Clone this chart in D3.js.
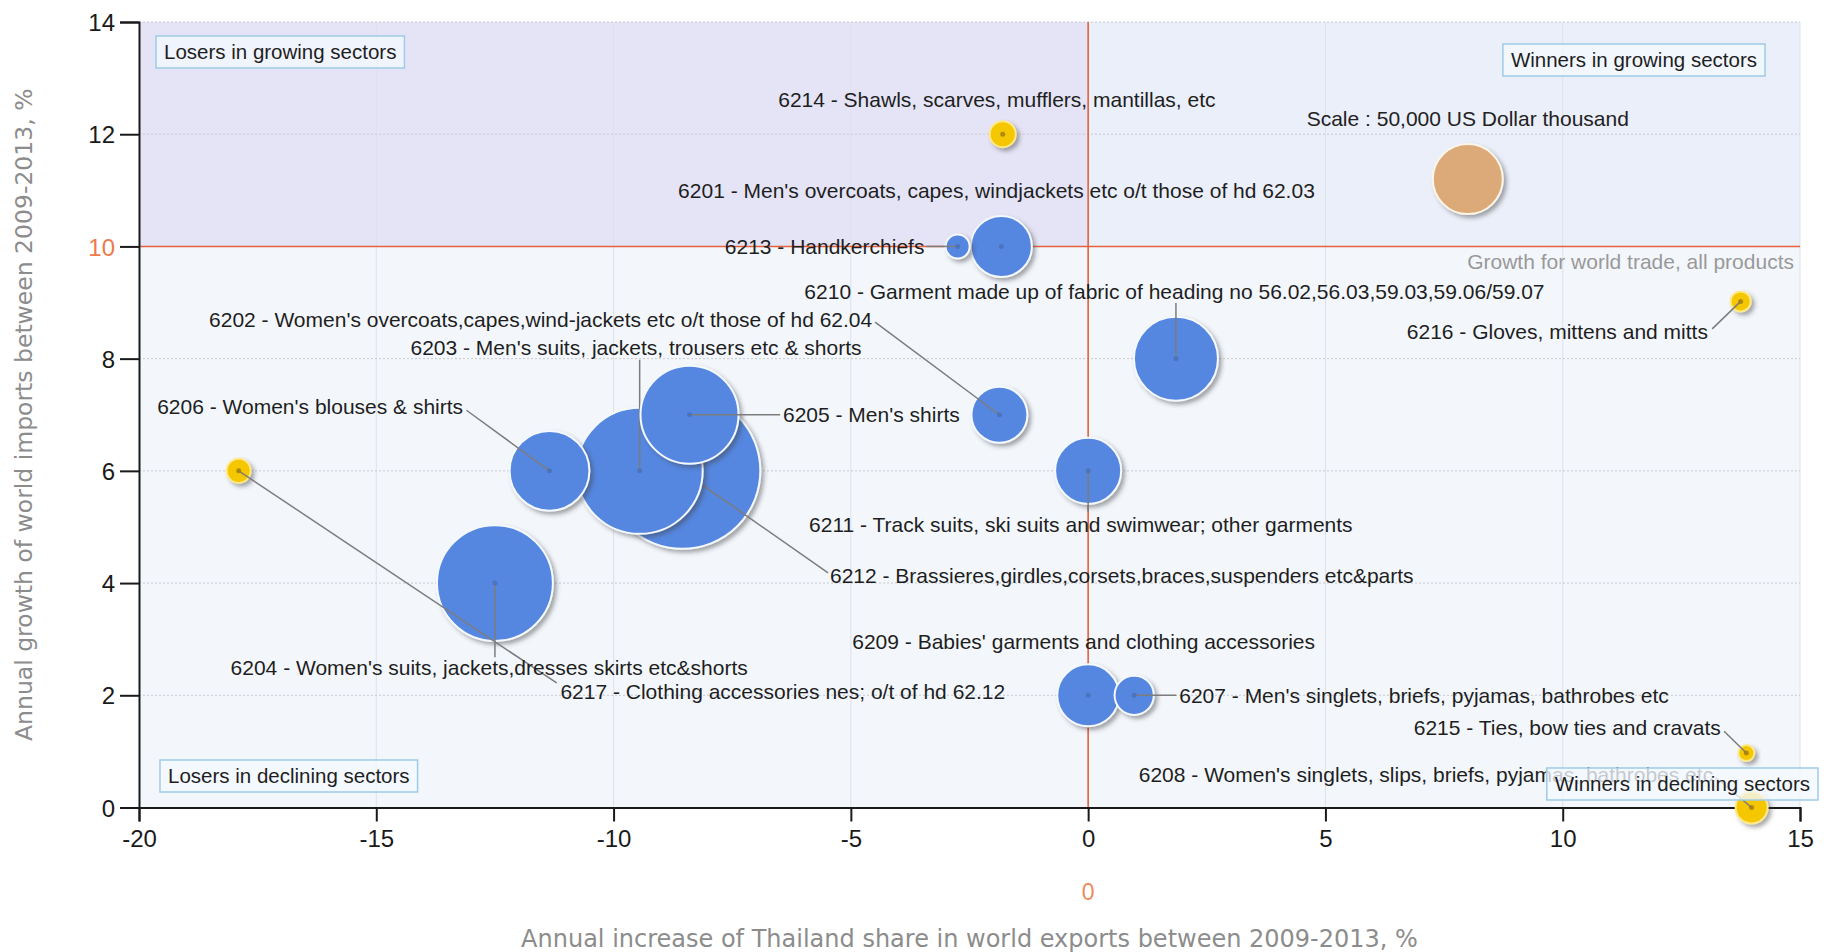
<!DOCTYPE html>
<html>
<head>
<meta charset="utf-8">
<script src="https://cdn.jsdelivr.net/npm/d3@7"></script>
<style>
  html, body { margin: 0; padding: 0; background: #ffffff; }
  svg { display: block; font-family: "Liberation Sans", Arial, sans-serif; }
</style>
</head>
<body>
<svg id="chart" width="1827" height="952"></svg>
<script>
// ---------------- DATA ----------------
const codes = ["6201","6202","6203","6204","6205","6206","6207","6208","6209","6210","6211","6212","6213","6214","6215","6216","6217"];
const names = [
  "Men's overcoats, capes, windjackets etc o/t those of hd 62.03",
  "Women's overcoats,capes,wind-jackets etc o/t those of hd 62.04",
  "Men's suits, jackets, trousers etc & shorts",
  "Women's suits, jackets,dresses skirts etc&shorts",
  "Men's shirts",
  "Women's blouses & shirts",
  "Men's singlets, briefs, pyjamas, bathrobes etc",
  "Women's singlets, slips, briefs, pyjamas, bathrobes etc",
  "Babies' garments and clothing accessories",
  "Garment made up of fabric of heading no 56.02,56.03,59.03,59.06/59.07",
  "Track suits, ski suits and swimwear; other garments",
  "Brassieres,girdles,corsets,braces,suspenders etc&parts",
  "Handkerchiefs",
  "Shawls, scarves, mufflers, mantillas, etc",
  "Ties, bow ties and cravats",
  "Gloves, mittens and mitts",
  "Clothing accessories nes; o/t of hd 62.12"
];
// Annual increase of Thailand share in world exports 2009-2013, %
const shareGrowth = [-1.83, -1.87, -9.45, -12.5, -8.4, -11.35, 0.97, 13.98, 0, 1.85, 0, -8.55, -2.75, -1.8, 13.87, 13.75, -17.9];
// Annual growth of world imports 2009-2013, %
const importGrowth = [10, 7, 6, 4, 7, 6, 2, 0, 2, 8, 6, 6, 10, 12, 0.97, 9.02, 6];
// Thailand exports, US Dollar thousand (bubble size)
const exportValue = [38000, 32000, 162000, 137000, 98000, 65000, 15700, 10400, 39000, 72000, 44500, 248000, 5900, 6900, 2600, 4100, 5900];
// Colour group
const group = ["blue","blue","blue","blue","blue","blue","blue","yellow","blue","blue","blue","blue","blue","yellow","yellow","yellow","yellow"];

const xTicks = [-20, -15, -10, -5, 0, 5, 10, 15];
const yTicks = [0, 2, 4, 6, 8, 10, 12, 14];
const worldGrowth = 10;          // growth for world trade, all products
const scaleValue = 50000;        // scale bubble value
const scaleBubble = [8, 11.2];   // scale bubble position (data units)

const xTitle = "Annual increase of Thailand share in world exports between 2009-2013, %";
const yTitle = "Annual growth of world imports between 2009-2013, %";
const quadrantNames = ["Losers in growing sectors", "Winners in growing sectors", "Losers in declining sectors", "Winners in declining sectors"];

// ---------------- LAYOUT (label anchors in data units) ----------------
// [labelX, labelY, anchor, leaderFromX, leaderFromY]  (null leader = none)
const labelLayout = {
  "6201": [-8.64, 11.0, "start", null, null],
  "6202": [-4.55, 8.69, "end", -4.49, 8.65],
  "6203": [-14.28, 8.19, "start", -9.45, 7.98],
  "6204": [-18.07, 2.5, "start", -12.5, 2.68],
  "6205": [-6.43, 7.01, "start", -6.49, 7.0],
  "6206": [-13.17, 7.14, "end", -13.1, 7.08],
  "6207": [1.92, 1.99, "start", 1.86, 2.0],
  "6208": [13.17, 0.58, "end", 13.23, 0.53],
  "6209": [-4.97, 2.95, "start", null, null],
  "6210": [-5.98, 9.19, "start", 1.85, 8.99],
  "6211": [-5.88, 5.04, "start", 0, 5.27],
  "6212": [-5.44, 4.13, "start", -5.48, 4.18],
  "6213": [-3.45, 10.0, "end", -3.41, 10.0],
  "6214": [-6.53, 12.61, "start", null, null],
  "6215": [13.33, 1.42, "end", 13.4, 1.36],
  "6216": [13.06, 8.49, "end", 13.15, 8.53],
  "6217": [-11.12, 2.06, "start", -11.2, 2.22]
};

// ---------------- CHART ----------------
const W = 1827, H = 952;
const margin = {left: 139, right: 27, top: 22, bottom: 144.5};
const svg = d3.select("#chart");

const x = d3.scaleLinear().domain([-20, 15]).range([margin.left, W - margin.right]);
const y = d3.scaleLinear().domain([0, 14]).range([H - margin.bottom, margin.top]);
const r = d3.scaleSqrt().domain([0, scaleValue]).range([0, 35]);

const colors = {blue: "#5587e1", yellow: "#f4c700", scale: "#dcaa78"};
const dotColors = {blue: "#4a6fb5", yellow: "#a07a10"};
const strokeColors = {blue: "#f4f8ff", yellow: "#fde88a"};
const red = "#e5603c";

const defs = svg.append("defs");
const f = defs.append("filter").attr("id", "shadow").attr("x", "-30%").attr("y", "-30%").attr("width", "170%").attr("height", "170%");
f.append("feDropShadow").attr("dx", 3).attr("dy", 3).attr("stdDeviation", 2).attr("flood-color", "#404040").attr("flood-opacity", 0.45);

// quadrant backgrounds
const x0 = x(-20), x1 = x(15), yT = y(14), yB = y(0);
svg.append("rect").attr("x", x0).attr("y", yT).attr("width", x1 - x0).attr("height", yB - yT).attr("fill", "#f3f7fc");
svg.append("rect").attr("x", x(0)).attr("y", yT).attr("width", x1 - x(0)).attr("height", y(worldGrowth) - yT).attr("fill", "#ebeffa");
svg.append("rect").attr("x", x0).attr("y", yT).attr("width", x(0) - x0).attr("height", y(worldGrowth) - yT).attr("fill", "#e4e4f6");

// grid
const grid = svg.append("g");
grid.selectAll("line.v").data(xTicks.filter(d => d !== -20 && d !== 0)).join("line")
  .attr("x1", d => x(d)).attr("x2", d => x(d)).attr("y1", yT).attr("y2", yB)
  .attr("stroke", "#dde1ea").attr("stroke-width", 1);
grid.selectAll("line.h").data(yTicks.filter(d => d !== 0 && d !== worldGrowth)).join("line")
  .attr("x1", x0).attr("x2", x1).attr("y1", d => y(d)).attr("y2", d => y(d))
  .attr("stroke", "#c6c9cf").attr("stroke-width", 1).attr("stroke-dasharray", "2,2");

// reference lines
svg.append("line").attr("x1", x0).attr("x2", x1).attr("y1", y(worldGrowth)).attr("y2", y(worldGrowth))
  .attr("stroke", red).attr("stroke-width", 1.6);
svg.append("line").attr("x1", x(0)).attr("x2", x(0)).attr("y1", yT).attr("y2", yB)
  .attr("stroke", red).attr("stroke-width", 1.6);

// axes
const fmt = d => String(d);
const xAxis = svg.append("g").attr("transform", `translate(0,${yB})`)
  .call(d3.axisBottom(x).tickValues(xTicks).tickSize(14).tickPadding(8).tickFormat(fmt));
const yAxis = svg.append("g").attr("transform", `translate(${x0},0)`)
  .call(d3.axisLeft(y).tickValues(yTicks).tickSize(19).tickPadding(5).tickFormat(fmt));
[xAxis, yAxis].forEach(a => {
  a.select(".domain").attr("stroke", "#1a1a1a").attr("stroke-width", 2);
  a.selectAll(".tick line").attr("stroke", "#1a1a1a").attr("stroke-width", 2);
  a.selectAll(".tick text").attr("fill", "#1a1a1a").style("font-size", "24px").style("font-family", "Liberation Sans, Arial, sans-serif");
});
xAxis.selectAll(".tick text").attr("dy", "0.72em");
yAxis.selectAll(".tick text").filter(d => d === worldGrowth).attr("fill", "#ef7a4c");
yAxis.selectAll(".tick text").attr("dy", "0.36em");

// extra "0" marker below x axis
svg.append("text").attr("x", x(0)).attr("y", yB + 92).attr("text-anchor", "middle")
  .attr("fill", "#ef8a5c").style("font-size", "23px").text("0");

// axis titles
svg.append("text").attr("x", (x0 + x1) / 2).attr("y", 947).attr("text-anchor", "middle")
  .attr("fill", "#8c8c8c").style("font-family", "DejaVu Sans, Verdana, sans-serif").style("font-size", "24px")
  .text(xTitle);
svg.append("text").attr("transform", `translate(32,${(yT + yB) / 2}) rotate(-90)`).attr("text-anchor", "middle")
  .attr("fill", "#8c8c8c").style("font-family", "DejaVu Sans, Verdana, sans-serif").style("font-size", "23.5px")
  .text(yTitle);

// items
const items = codes.map((c, i) => ({
  code: c, name: names[i], xv: shareGrowth[i], yv: importGrowth[i], val: exportValue[i], grp: group[i], lay: labelLayout[c]
})).sort((a, b) => b.val - a.val);

const gItems = svg.append("g");
items.forEach(d => {
  const g = gItems.append("g");
  g.append("circle").attr("cx", x(d.xv)).attr("cy", y(d.yv)).attr("r", r(d.val))
    .attr("fill", colors[d.grp]).attr("stroke", strokeColors[d.grp]).attr("stroke-width", 2)
    .attr("filter", "url(#shadow)");
  const L = d.lay;
  if (L[3] !== null) {
    g.append("line").attr("x1", x(L[3])).attr("y1", y(L[4])).attr("x2", x(d.xv)).attr("y2", y(d.yv))
      .attr("stroke", "#7c7c7c").attr("stroke-width", 1.5);
  }
  g.append("circle").attr("cx", x(d.xv)).attr("cy", y(d.yv)).attr("r", 2.5)
    .attr("fill", dotColors[d.grp]).attr("opacity", 0.8);
});

// scale bubble
svg.append("circle").attr("cx", x(scaleBubble[0])).attr("cy", y(scaleBubble[1])).attr("r", r(scaleValue))
  .attr("fill", colors.scale).attr("stroke", "#fff6ea").attr("stroke-width", 2).attr("filter", "url(#shadow)");
svg.append("text").attr("x", x(scaleBubble[0])).attr("y", y(scaleBubble[1]) - 60).attr("text-anchor", "middle")
  .attr("fill", "#222").style("font-size", "21px").attr("dy", "0.35em")
  .text("Scale : " + d3.format(",")(scaleValue) + " US Dollar thousand");

// world growth label
svg.append("text").attr("x", x1 - 6).attr("y", y(worldGrowth) + 15).attr("text-anchor", "end").attr("dy", "0.35em")
  .attr("fill", "#999999").style("font-size", "21px").text("Growth for world trade, all products");

// product labels
const gLabels = svg.append("g");
items.forEach(d => {
  const L = d.lay;
  gLabels.append("text").attr("x", x(L[0])).attr("y", y(L[1])).attr("dy", "0.35em")
    .attr("text-anchor", L[2]).attr("fill", "#1e1e1e").style("font-size", "21px")
    .text(d.code + " - " + d.name);
});

// quadrant boxes
const boxDefs = [
  {t: quadrantNames[0], left: x0 + 17, top: yT + 14},
  {t: quadrantNames[1], right: x1 - 35, top: yT + 22},
  {t: quadrantNames[2], left: x0 + 21, top: yB - 47.5},
  {t: quadrantNames[3], right: x1 + 18, top: yB - 39.5}
];
boxDefs.forEach(b => {
  const g = svg.append("g");
  const rect = g.append("rect");
  const txt = g.append("text").attr("fill", "#1e1e1e").style("font-size", "20.5px").attr("dy", "0.35em").text(b.t);
  const w = txt.node().getComputedTextLength() + 16;
  const left = b.left !== undefined ? b.left : b.right - w;
  rect.attr("x", left).attr("y", b.top).attr("width", w).attr("height", 32)
    .attr("fill", "#f4f9ff").attr("fill-opacity", 0.78).attr("stroke", "#9fcbe6").attr("stroke-width", 1.5);
  txt.attr("x", left + 8).attr("y", b.top + 16);
});
</script>
</body>
</html>
